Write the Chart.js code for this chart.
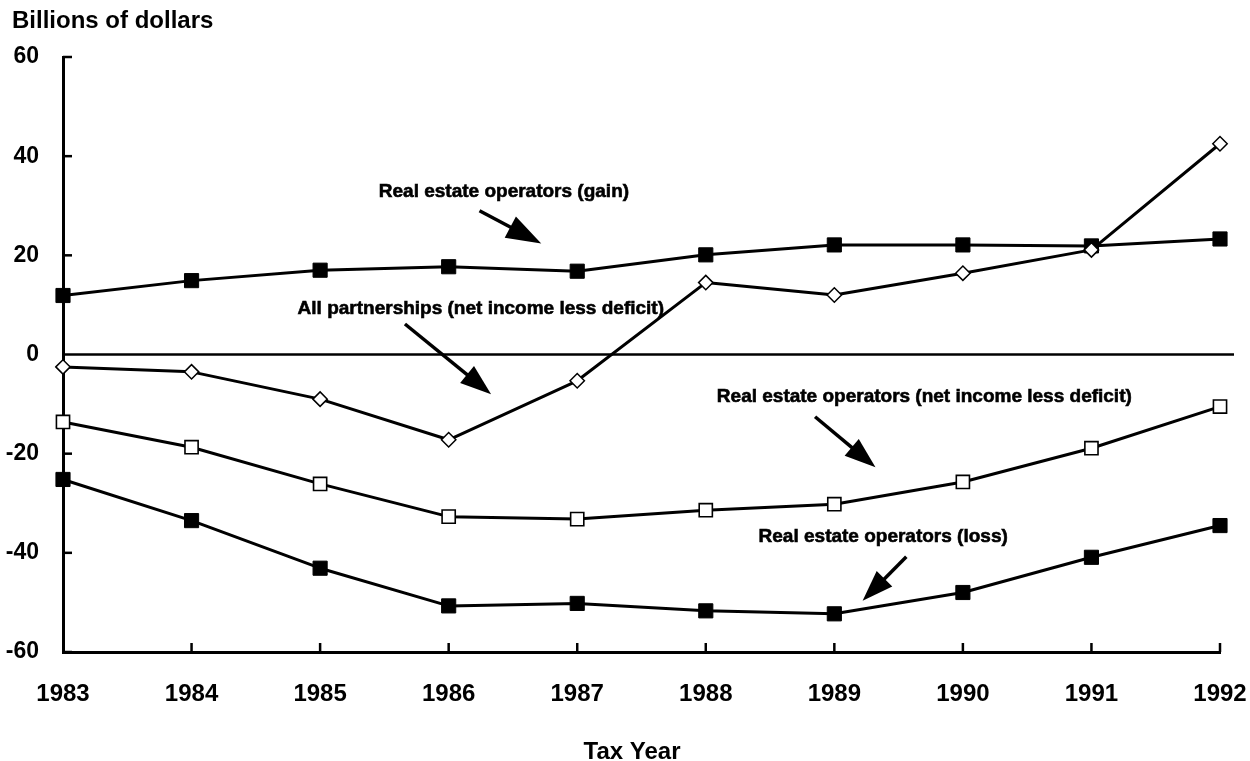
<!DOCTYPE html>
<html>
<head>
<meta charset="utf-8">
<script src="https://cdn.jsdelivr.net/npm/chart.js@4/dist/chart.umd.min.js"></script>
<style>
html,body{margin:0;padding:0;background:#fff;}
#wrap{width:1250px;height:761px;position:relative;}
</style>
</head>
<body>
<div id="wrap"><canvas id="c" width="1250" height="761"></canvas></div>
<script>
// ---- data ----
const years = [1983, 1984, 1985, 1986, 1987, 1988, 1989, 1990, 1991, 1992];
const yTicks = [-60, -40, -20, 0, 20, 40, 60];
const allPartnerships = [-2.5, -3.5, -9.0, -17.2, -5.3, 14.5, 12.0, 16.4, 21.1, 42.5];
const reoGain = [11.9, 14.9, 17.0, 17.7, 16.8, 20.1, 22.1, 22.1, 21.9, 23.3];
const reoNet = [-13.6, -18.7, -26.1, -32.7, -33.2, -31.4, -30.2, -25.7, -18.9, -10.5];
const reoLoss = [-25.2, -33.5, -43.1, -50.7, -50.2, -51.7, -52.3, -48.0, -40.9, -34.5];
const yAxisTitle = 'Billions of dollars';
const xAxisTitle = 'Tax Year';

// annotations (data coordinates)
const notes = [
  {text: 'Real estate operators (gain)', x: 1986.43, y: 32.8, from: [1986.24, 29.0], to: [1986.72, 22.4]},
  {text: 'All partnerships (net income less deficit)', x: 1986.25, y: 9.2, from: [1985.66, 6.15], to: [1986.33, -8.0]},
  {text: 'Real estate operators (net income less deficit)', x: 1989.70, y: -8.5, from: [1988.85, -12.55], to: [1989.32, -22.75]},
  {text: 'Real estate operators (loss)', x: 1989.38, y: -36.75, from: [1989.56, -40.8], to: [1989.22, -49.66]}
];

const FONT = '"Liberation Sans", Arial, Helvetica, sans-serif';

function pts(vals) { return years.map((yr, i) => ({x: yr, y: vals[i]})); }

function arrow(ctx, x1, y1, x2, y2, hl, hw) {
  const dx = x2 - x1, dy = y2 - y1, len = Math.hypot(dx, dy);
  const ux = dx / len, uy = dy / len;
  const bx = x2 - ux * hl, by = y2 - uy * hl;
  ctx.beginPath();
  ctx.moveTo(x1, y1);
  ctx.lineTo(bx + ux * 2, by + uy * 2);
  ctx.stroke();
  ctx.beginPath();
  ctx.moveTo(x2, y2);
  ctx.lineTo(bx - uy * hw / 2, by + ux * hw / 2);
  ctx.lineTo(bx + uy * hw / 2, by - ux * hw / 2);
  ctx.closePath();
  ctx.fill();
}

const decor = {
  id: 'decor',
  beforeDatasetsDraw(chart) {
    const {ctx, chartArea: a, scales: {x, y}} = chart;
    ctx.save();
    ctx.strokeStyle = '#000';
    ctx.lineWidth = 2.5;
    const y0 = y.getPixelForValue(0);
    ctx.beginPath(); ctx.moveTo(a.left, y0); ctx.lineTo(a.right + 14, y0); ctx.stroke();
    yTicks.forEach(v => {
      if (v === 0) return;
      const p = y.getPixelForValue(v);
      ctx.beginPath(); ctx.moveTo(a.left, p); ctx.lineTo(a.left + 9, p); ctx.stroke();
    });
    years.forEach((v, i) => {
      if (i === 0) return;
      const p = x.getPixelForValue(v);
      ctx.beginPath(); ctx.moveTo(p, a.bottom); ctx.lineTo(p, a.bottom - 9); ctx.stroke();
    });
    ctx.restore();
  },
  afterDraw(chart) {
    const {ctx, scales: {x, y}} = chart;
    ctx.save();
    ctx.fillStyle = '#000';
    ctx.strokeStyle = '#000';
    ctx.font = 'bold 24px ' + FONT;
    ctx.textAlign = 'left';
    ctx.textBaseline = 'alphabetic';
    ctx.fillText(yAxisTitle, 12, 28);
    ctx.textAlign = 'center';
    ctx.fillText(xAxisTitle, 632, 759);
    ctx.font = 'bold 19px ' + FONT;
    ctx.textBaseline = 'middle';
    notes.forEach((n, i) => {
      const tx = x.getPixelForValue(n.x), ty = y.getPixelForValue(n.y);
      ctx.lineWidth = 0.6;
      ctx.fillText(n.text, tx, ty);
      ctx.strokeText(n.text, tx, ty);
      ctx.lineWidth = 3.5;
      arrow(ctx,
        x.getPixelForValue(n.from[0]), y.getPixelForValue(n.from[1]),
        x.getPixelForValue(n.to[0]), y.getPixelForValue(n.to[1]),
        i === 0 ? 35 : 31, i === 0 ? 24 : 22);
    });
    ctx.restore();
  }
};

const common = {borderColor: '#000', borderWidth: 3, tension: 0, clip: false, pointBorderColor: '#000'};

new Chart(document.getElementById('c'), {
  type: 'line',
  data: {
    datasets: [
      Object.assign({label: 'All partnerships (net income less deficit)', data: pts(allPartnerships),
        pointStyle: 'rectRot', pointRadius: 7.2, pointBackgroundColor: '#fff', pointBorderWidth: 1.5}, common),
      Object.assign({label: 'Real estate operators (gain)', data: pts(reoGain),
        pointStyle: 'rect', pointRadius: 10, pointBackgroundColor: '#000', pointBorderWidth: 1}, common),
      Object.assign({label: 'Real estate operators (net income less deficit)', data: pts(reoNet),
        pointStyle: 'rect', pointRadius: 9.3, pointBackgroundColor: '#fff', pointBorderWidth: 1.6}, common),
      Object.assign({label: 'Real estate operators (loss)', data: pts(reoLoss),
        pointStyle: 'rect', pointRadius: 10, pointBackgroundColor: '#000', pointBorderWidth: 1}, common)
    ]
  },
  options: {
    responsive: false,
    animation: false,
    devicePixelRatio: 1,
    layout: {padding: {left: 0, top: 57, right: 30, bottom: 0}},
    plugins: {legend: {display: false}, tooltip: {enabled: false}, title: {display: false}},
    elements: {line: {borderCapStyle: 'round', borderJoinStyle: 'round'}},
    scales: {
      x: {
        type: 'linear', min: years[0], max: years[years.length - 1],
        afterBuildTicks: s => { s.ticks = years.map(v => ({value: v})); },
        afterFit: s => { s.height = 109; s.paddingLeft = 0; s.paddingRight = 0; },
        grid: {display: false, drawTicks: false},
        border: {display: true, color: '#000', width: 3},
        ticks: {color: '#000', padding: 28, maxRotation: 0, autoSkip: false,
          font: {family: FONT, size: 24, weight: 'bold'}, callback: v => String(v)}
      },
      y: {
        type: 'linear', min: yTicks[0], max: yTicks[yTicks.length - 1],
        afterBuildTicks: s => { s.ticks = yTicks.map(v => ({value: v})); },
        afterFit: s => { s.width = 63; },
        grid: {display: false, drawTicks: false},
        border: {display: true, color: '#000', width: 3},
        ticks: {color: '#000', padding: 24, font: {family: FONT, size: 23, weight: 'bold'},
          callback: v => String(v)}
      }
    }
  },
  plugins: [decor]
});
</script>
</body>
</html>
